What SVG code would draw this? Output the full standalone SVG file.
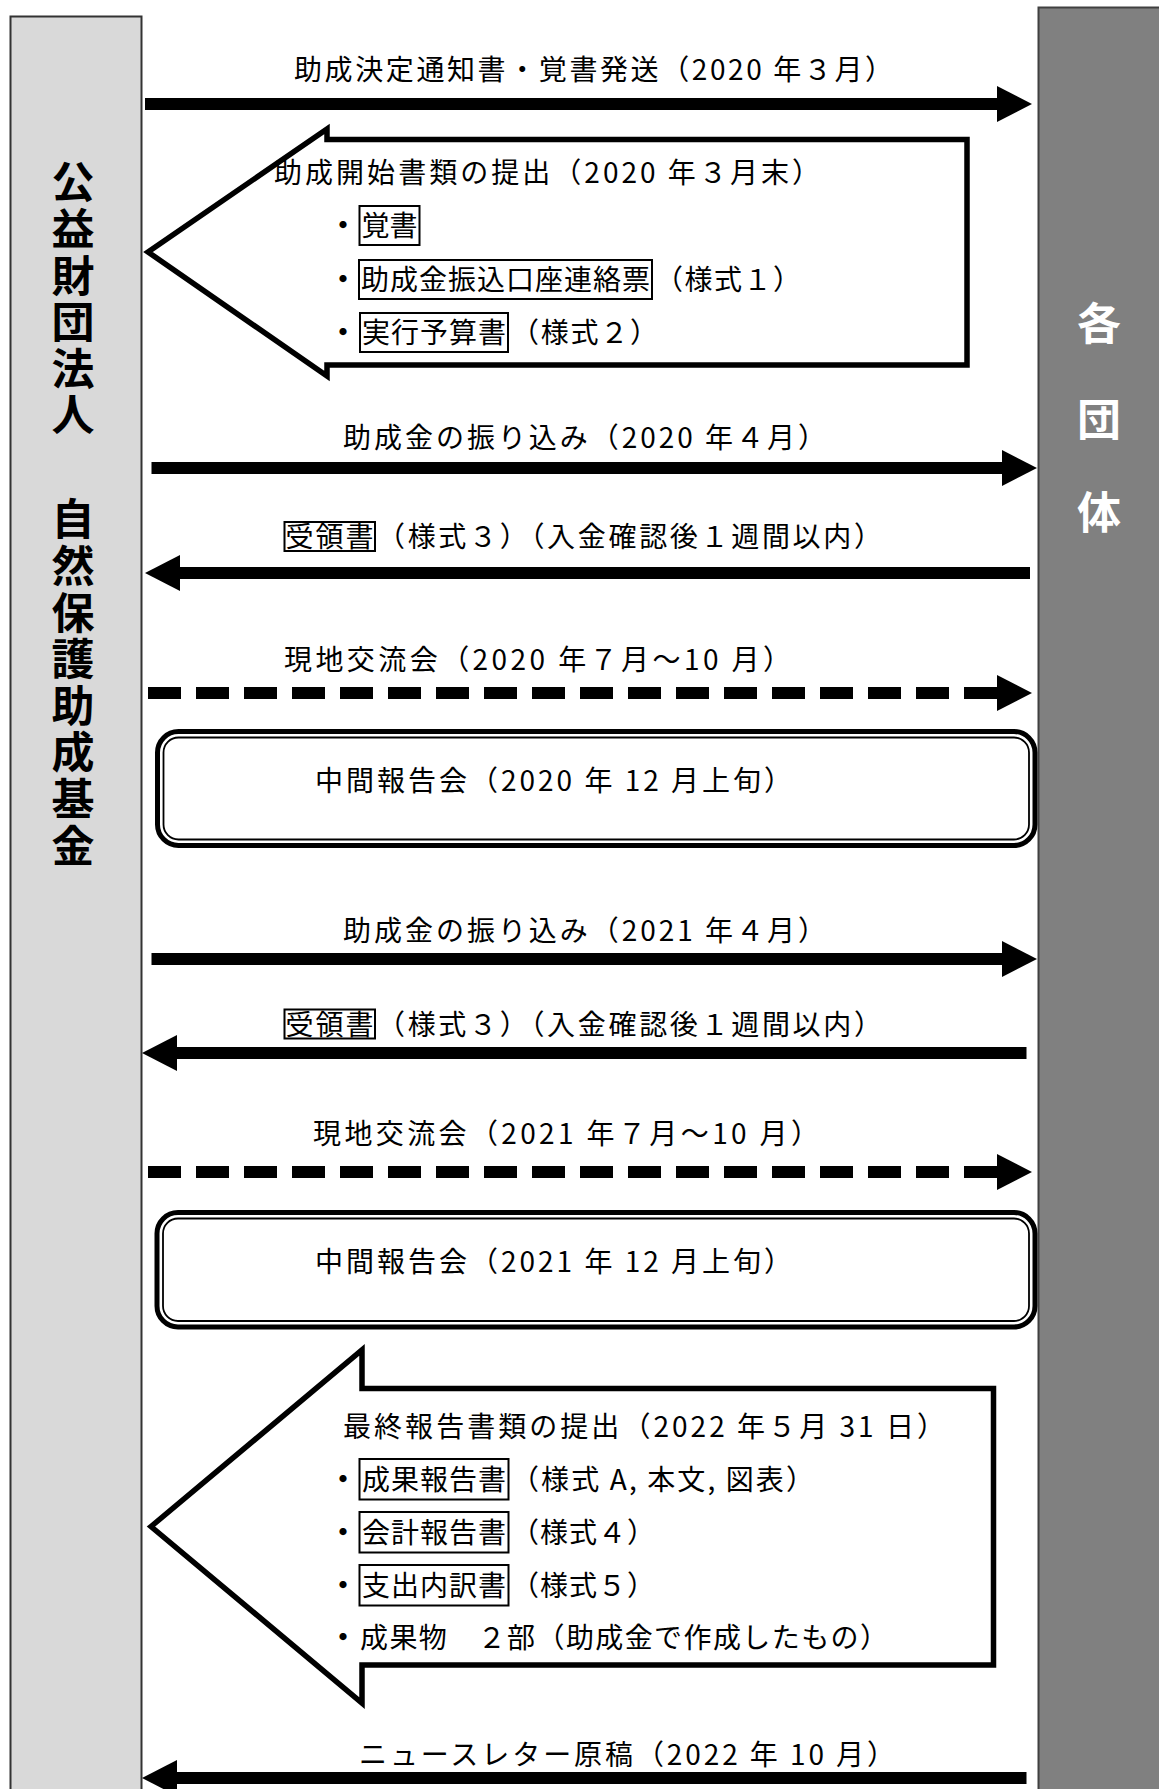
<svg xmlns="http://www.w3.org/2000/svg" width="1159" height="1789" viewBox="0 0 1159 1789">
<style>
.t{font-family:"Noto Sans CJK JP","Noto Sans",sans-serif;font-size:28px;fill:#000}
.b{text-anchor:middle;font-weight:bold}
.v{font-family:"Noto Sans CJK JP","Noto Sans",sans-serif;font-size:43px;font-weight:bold}
.vt{writing-mode:vertical-rl;letter-spacing:3.6px}
.g{font-size:44px;text-anchor:middle;fill:#fff}
.ln{stroke:#000;stroke-width:12;fill:none}
.dash{stroke-dasharray:33 15}
.kb{fill:#fff;stroke:#000;stroke-width:2}
.big{fill:#fff;stroke:#000;stroke-width:5.5;stroke-linejoin:miter;stroke-miterlimit:10}
.rr1{fill:#fff;stroke:#000;stroke-width:5}
.rr2{fill:none;stroke:#000;stroke-width:1.8}
</style>
<defs>
<marker id="ah" viewBox="0 0 35 36" markerWidth="35" markerHeight="36" refX="0" refY="18" orient="auto" markerUnits="userSpaceOnUse">
<path d="M0,0 L35,18 L0,36 Z" fill="#000"/>
</marker>
</defs>
<rect width="1159" height="1789" fill="#fff"/>

<g id="foundation">
<rect x="10.5" y="16.5" width="131" height="1800" fill="#d9d9d9" stroke="#333" stroke-width="2"/>
<text class="v vt" x="73" y="160.5">公益財団法人</text>
<text class="v vt" x="73" y="497.5">自然保護助成基金</text>
</g>

<g id="groups">
<rect x="1038.5" y="7.5" width="130" height="1800" fill="#808080" stroke="#404040" stroke-width="2"/>
<text class="v g" x="1099" y="340">各</text>
<text class="v g" x="1099" y="436">団</text>
<text class="v g" x="1099" y="529">体</text>
</g>

<g id="connectors">
<line class="ln" x1="145" y1="104" x2="997" y2="104" marker-end="url(#ah)"/>
<line class="ln" x1="151.5" y1="468" x2="1002" y2="468" marker-end="url(#ah)"/>
<line class="ln" x1="1030" y1="573" x2="180" y2="573" marker-end="url(#ah)"/>
<line class="ln dash" x1="148" y1="693" x2="997" y2="693" marker-end="url(#ah)"/>
<line class="ln" x1="151.5" y1="959" x2="1002" y2="959" marker-end="url(#ah)"/>
<line class="ln" x1="1026.5" y1="1053" x2="177" y2="1053" marker-end="url(#ah)"/>
<line class="ln dash" x1="148" y1="1172" x2="997" y2="1172" marker-end="url(#ah)"/>
<line class="ln" x1="1026.5" y1="1778" x2="177" y2="1778" marker-end="url(#ah)"/>
</g>

<g id="label-notice">
<text class="t" x="294" y="79.5" textLength="599">助成決定通知書・覚書発送（2020 年３月）</text>
</g>

<g id="start-documents">
<polygon class="big" points="148,252 327,129 327,139.5 967,139.5 967,365 327,365 327,376"/>
<text class="t" x="274" y="183" textLength="546">助成開始書類の提出（2020 年３月末）</text>
<text class="t b" x="343" y="236">・</text>
<rect class="kb" x="359.5" y="206" width="60" height="39"/>
<text class="t" x="361.5" y="236" textLength="56">覚書</text>
<text class="t b" x="343" y="290">・</text>
<rect class="kb" x="359" y="260" width="293" height="39"/>
<text class="t" x="361" y="290" textLength="289">助成金振込口座連絡票</text>
<text class="t" x="655" y="290" textLength="146">（様式１）</text>
<text class="t b" x="343" y="343">・</text>
<rect class="kb" x="360" y="313" width="148" height="39"/>
<text class="t" x="362" y="343" textLength="144">実行予算書</text>
<text class="t" x="511" y="343" textLength="147">（様式２）</text>
</g>

<g id="label-transfer-2020">
<text class="t" x="343" y="447.5" textLength="483">助成金の振り込み（2020 年４月）</text>
</g>

<g id="label-receipt-2020">
<rect class="kb" x="284.5" y="522" width="90.5" height="29"/>
<text class="t" x="285.5" y="547" textLength="88">受領書</text>
<text class="t" x="377" y="547" textLength="505">（様式３）（入金確認後１週間以内）</text>
</g>

<g id="label-visit-2020">
<text class="t" x="284" y="669.5" textLength="507">現地交流会（2020 年７月～10 月）</text>
</g>

<g id="interim-2020">
<rect class="rr1" x="157.5" y="731.5" width="877.5" height="114" rx="21"/>
<rect class="rr2" x="163.5" y="737.5" width="865.5" height="102" rx="15"/>
<text class="t" x="315" y="790.5" textLength="477">中間報告会（2020 年 12 月上旬）</text>
</g>

<g id="label-transfer-2021">
<text class="t" x="343" y="940.5" textLength="483">助成金の振り込み（2021 年４月）</text>
</g>

<g id="label-receipt-2021">
<rect class="kb" x="284.5" y="1009.5" width="90.5" height="29"/>
<text class="t" x="285.5" y="1034.5" textLength="88">受領書</text>
<text class="t" x="377" y="1034.5" textLength="505">（様式３）（入金確認後１週間以内）</text>
</g>

<g id="label-visit-2021">
<text class="t" x="313" y="1144" textLength="506">現地交流会（2021 年７月～10 月）</text>
</g>

<g id="interim-2021">
<rect class="rr1" x="157" y="1212.5" width="878" height="114.5" rx="21"/>
<rect class="rr2" x="163" y="1218.5" width="866" height="102.5" rx="15"/>
<text class="t" x="315" y="1271.5" textLength="477">中間報告会（2021 年 12 月上旬）</text>
</g>

<g id="final-documents">
<polygon class="big" points="151,1526.5 362,1350 362,1388.5 993.5,1388.5 993.5,1665 362,1665 362,1703"/>
<text class="t" x="343" y="1436.5" textLength="602">最終報告書類の提出（2022 年５月 31 日）</text>
<text class="t b" x="343" y="1490">・</text>
<rect class="kb" x="359.5" y="1459" width="149" height="40.5"/>
<text class="t" x="362" y="1490" textLength="144">成果報告書</text>
<text class="t" x="511" y="1490" textLength="303">（様式 A, 本文, 図表）</text>
<text class="t b" x="343" y="1542.5">・</text>
<rect class="kb" x="359.5" y="1512" width="149" height="40.5"/>
<text class="t" x="362" y="1542.5" textLength="144">会計報告書</text>
<text class="t" x="511" y="1542.5" textLength="144">（様式４）</text>
<text class="t b" x="343" y="1595.5">・</text>
<rect class="kb" x="359.5" y="1565" width="149" height="40.5"/>
<text class="t" x="362" y="1595.5" textLength="144">支出内訳書</text>
<text class="t" x="511" y="1595.5" textLength="144">（様式５）</text>
<text class="t b" x="343" y="1647.5">・</text>
<text class="t" x="360" y="1647.5" textLength="528">成果物　２部（助成金で作成したもの）</text>
</g>

<g id="label-newsletter">
<text class="t" x="359" y="1764.5" textLength="536">ニュースレター原稿（2022 年 10 月）</text>
</g>
</svg>
